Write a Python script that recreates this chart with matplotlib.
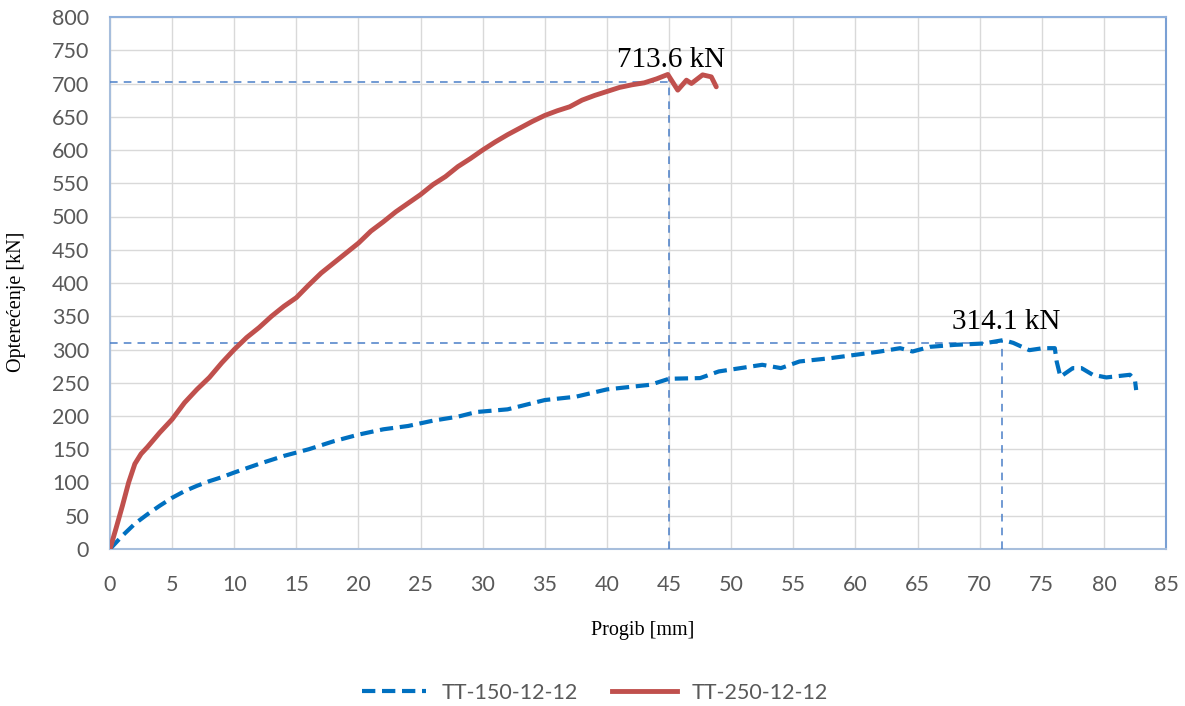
import matplotlib
matplotlib.use("Agg")
import matplotlib.pyplot as plt
from matplotlib.lines import Line2D

# ---- data ----
tt150_x = [0, 1, 2, 3, 4, 5, 6, 7, 8, 9, 10, 12, 14, 16, 18, 20, 22, 24, 26, 28,
           29.5, 32, 35, 37.5, 40, 43.5, 45, 47.5, 49, 52.5, 54, 55.5, 58, 60, 62,
           63.6, 64.6, 66, 68, 70.3, 71.9, 72.7, 74, 75.1, 76.05, 76.2, 76.5, 77.5,
           78.2, 79.1, 80.2, 82.1, 82.5, 82.6]
tt150_y = [0, 20, 38, 52, 65, 77, 87, 95, 102, 108, 115, 128, 140, 150, 162, 172,
           180, 185, 193, 199, 206, 210, 224, 229, 240, 247, 256, 257, 267, 277, 272,
           282, 287, 292, 297, 302, 297, 304, 307, 309, 314.1, 310, 299, 302, 302,
           282, 259, 272, 272, 262, 258, 262, 254, 239]

tt250_x = [0, 0.5, 1, 1.5, 2, 2.5, 3, 4, 5, 6, 7, 8, 9, 10, 11, 12, 13, 14, 15, 16,
           17, 18, 19, 20, 21, 22, 23, 24, 25, 26, 27, 28, 29, 30, 31, 32, 33, 34,
           35, 36, 37, 38, 39, 40, 41, 42, 43, 44, 44.9, 45.7, 46.4, 46.8, 47.7,
           48.4, 48.8]
tt250_y = [0, 32, 65, 100, 128, 143, 153, 175, 195, 220, 240, 258, 280, 300, 318,
           333, 350, 365, 378, 397, 415, 430, 445, 460, 478, 492, 507, 520, 533, 548,
           560, 575, 587, 600, 612, 623, 633, 643, 652, 659, 665, 675, 682, 688, 694,
           698, 701, 707, 713.6, 690, 705, 700, 713, 710, 695]

peak250 = (45.0, 713.6, 703)   # x, peak value, horizontal guide level
peak150 = (71.8, 314.1, 310)
labels = ["TT-150-12-12", "TT-250-12-12"]
xticks = list(range(0, 90, 5))
yticks = list(range(0, 850, 50))

# ---- figure ----
fig = plt.figure(figsize=(11.85, 7.06), dpi=100)
ax = fig.add_axes([110/1185, 1-549/706, (1166-110)/1185, (549-17)/706])

blue = "#0070c0"
red = "#c0504d"
guide = "#4a7ec8"
tickc = "#595959"
sans = "Lato"
serif = "Liberation Serif"

ax.plot(tt150_x, tt150_y, color=blue, lw=3.0, linestyle=(0, (3.2, 1.6)), zorder=4)
ax.plot(tt250_x, tt250_y, color=red, lw=3.5, solid_capstyle="round",
        solid_joinstyle="round", zorder=5)

# guide lines
for px, pv, lvl in [peak250, peak150]:
    ax.plot([0, px], [lvl, lvl], color=guide, lw=1.1, linestyle=(0, (5, 4)), zorder=3)
    ax.plot([px, px], [0, pv], color=guide, lw=1.1, linestyle=(0, (5, 4)), zorder=3)

ax.text(45.2, 735, "713.6 kN", ha="center", va="center", fontsize=21,
        family=serif, color="black")
ax.text(72.1, 341, "314.1 kN", ha="center", va="center", fontsize=21,
        family=serif, color="black")

ax.set_xlim(0, 85)
ax.set_ylim(0, 800)
ax.set_xticks(xticks)
ax.set_yticks(yticks)
ax.grid(True, color="#d9d9d9", lw=1.0)
ax.set_axisbelow(True)
ax.tick_params(axis="both", length=0, labelsize=15.5, labelcolor=tickc)
ax.tick_params(axis="y", pad=15)
ax.tick_params(axis="x", pad=19)
for lab in ax.get_xticklabels() + ax.get_yticklabels():
    lab.set_family(sans)
for s in ax.spines.values():
    s.set_color("#a7bedc")
    s.set_linewidth(1.5)
ax.spines["right"].set_color("#7aa0d4")
ax.spines["top"].set_color("#8fb0dc")

fig.text(17/1185, 1-302/706, "Opterećenje [kN]", rotation=90, ha="center",
         va="center", fontsize=14.5, family=serif)
fig.text(643/1185, 1-630/706, "Progib [mm]", ha="center", va="center",
         fontsize=14.5, family=serif)

handles = [Line2D([], [], color=blue, lw=3.0, linestyle=(0, (3.2, 1.6))),
           Line2D([], [], color=red, lw=3.5)]
leg = fig.legend(handles, labels, loc="center", bbox_to_anchor=(595/1185, 1-693/706),
                 ncol=2, frameon=False, handlelength=3.0, handletextpad=0.7,
                 columnspacing=1.6, prop={"family": sans, "size": 15.5})
for t in leg.get_texts():
    t.set_color(tickc)

fig.savefig("out.png", dpi=100, facecolor="white")
